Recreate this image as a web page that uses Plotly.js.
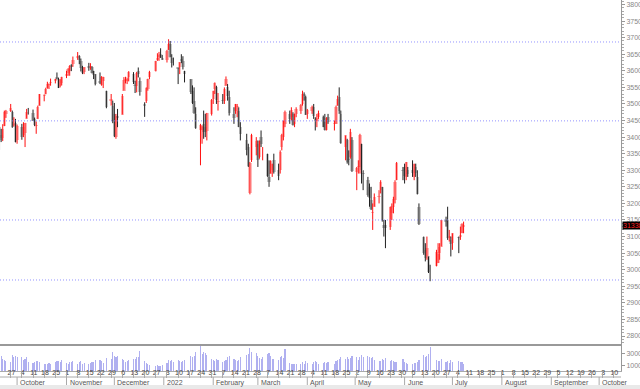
<!DOCTYPE html>
<html><head><meta charset="utf-8">
<script src="https://cdn.plot.ly/plotly-3.0.1.min.js"></script>
<style>html,body{margin:0;padding:0;background:#fff}#chart{width:640px;height:389px}</style>
</head><body><div id="chart"></div>
<script>
const dates = [
"2021-09-20","2021-09-21","2021-09-22","2021-09-23","2021-09-24","2021-09-27","2021-09-28","2021-09-29","2021-09-30",
"2021-10-01","2021-10-04","2021-10-05","2021-10-06","2021-10-07","2021-10-08","2021-10-11","2021-10-12","2021-10-13","2021-10-14","2021-10-15","2021-10-18","2021-10-19","2021-10-20","2021-10-21","2021-10-22","2021-10-25","2021-10-26","2021-10-27","2021-10-28","2021-10-29",
"2021-11-01","2021-11-02","2021-11-03","2021-11-04","2021-11-05","2021-11-08","2021-11-09","2021-11-10","2021-11-11","2021-11-12","2021-11-15","2021-11-16","2021-11-17","2021-11-18","2021-11-19","2021-11-22","2021-11-23","2021-11-24","2021-11-26","2021-11-29","2021-11-30",
"2021-12-01","2021-12-02","2021-12-03","2021-12-06","2021-12-07","2021-12-08","2021-12-09","2021-12-10","2021-12-13","2021-12-14","2021-12-15","2021-12-16","2021-12-17","2021-12-20","2021-12-21","2021-12-22","2021-12-23","2021-12-27","2021-12-28","2021-12-29","2021-12-30","2021-12-31",
"2022-01-03","2022-01-04","2022-01-05","2022-01-06","2022-01-07","2022-01-10","2022-01-11","2022-01-12","2022-01-13","2022-01-14","2022-01-18","2022-01-19","2022-01-20","2022-01-21","2022-01-24","2022-01-25","2022-01-26","2022-01-27","2022-01-28","2022-01-31",
"2022-02-01","2022-02-02","2022-02-03","2022-02-04","2022-02-07","2022-02-08","2022-02-09","2022-02-10","2022-02-11","2022-02-14","2022-02-15","2022-02-16","2022-02-17","2022-02-18","2022-02-22","2022-02-23","2022-02-24","2022-02-25","2022-02-28",
"2022-03-01","2022-03-02","2022-03-03","2022-03-04","2022-03-07","2022-03-08","2022-03-09","2022-03-10","2022-03-11","2022-03-14","2022-03-15","2022-03-16","2022-03-17","2022-03-18","2022-03-21","2022-03-22","2022-03-23","2022-03-24","2022-03-25","2022-03-28","2022-03-29","2022-03-30","2022-03-31",
"2022-04-01","2022-04-04","2022-04-05","2022-04-06","2022-04-07","2022-04-08","2022-04-11","2022-04-12","2022-04-13","2022-04-14","2022-04-18","2022-04-19","2022-04-20","2022-04-21","2022-04-22","2022-04-25","2022-04-26","2022-04-27","2022-04-28","2022-04-29",
"2022-05-02","2022-05-03","2022-05-04","2022-05-05","2022-05-06","2022-05-09","2022-05-10","2022-05-11","2022-05-12","2022-05-13","2022-05-16","2022-05-17","2022-05-18","2022-05-19","2022-05-20","2022-05-23","2022-05-24","2022-05-25","2022-05-26","2022-05-27","2022-05-31",
"2022-06-01","2022-06-02","2022-06-03","2022-06-06","2022-06-07","2022-06-08","2022-06-09","2022-06-10","2022-06-13","2022-06-14","2022-06-15","2022-06-16","2022-06-17","2022-06-21","2022-06-22","2022-06-23","2022-06-24","2022-06-27","2022-06-28","2022-06-29","2022-06-30",
"2022-07-01","2022-07-05","2022-07-06","2022-07-07","2022-07-08"];

const open = [
34300,34060,33960,34330,34700,34800,34760,34360,34440,
33900,34300,34050,34130,34560,34770,34740,34550,34340,34550,34950,35250,35300,35480,35570,35630,35700,35800,35760,35550,35630,
35850,35930,36000,36180,36200,36380,36460,36300,36100,35970,36160,36090,36100,35980,35900,35680,35580,35700,35400,35100,34950,
34700,34000,34650,34680,35400,35700,35700,35800,35900,35550,35530,35980,35700,35000,35100,35450,35800,35980,36330,36430,36500,36400,
36320,36630,36800,36400,36250,36100,36100,36350,36300,36000,35750,35400,35100,34700,34200,34200,34400,34300,34180,34700,
35150,35450,35500,35050,35100,35100,35550,35500,35200,34700,34800,34900,34800,34300,33900,33700,32300,33300,33700,
33800,33400,34000,33600,33500,32800,32900,33000,33300,33000,33000,33700,34000,34400,34700,34600,34700,34400,34700,34800,35000,35300,35200,
34700,34800,34900,34550,34500,34600,34600,34450,34200,34600,34400,34400,34950,35200,34700,33700,33900,33350,33400,33900,
32950,33100,33100,33800,32900,32700,32500,32100,31700,31900,32200,32400,32500,31350,31350,31300,31700,31900,32100,32700,33000,
33100,32800,33000,33000,32800,33100,32800,31900,31000,30600,30400,30400,29900,30100,30200,30500,30700,31500,31500,30950,30900,
30800,31000,31000,31100,31300];

const high = [
34320,34250,34390,34800,34820,35000,34800,34600,34550,
34380,34400,34450,34430,34850,34880,34830,34590,34470,34950,35300,35290,35490,35670,35620,35765,35760,35950,35790,35750,35820,
36000,36080,36170,36200,36430,36566,36470,36370,36150,36110,36240,36230,36140,36000,35900,35950,35840,35820,35400,35300,35100,
35030,34700,34850,35300,35810,35820,35800,35990,35960,35700,35970,36100,35800,35050,35500,35760,36000,36300,36530,36570,36680,36480,
36630,36952,36900,36500,36400,36100,36260,36500,36440,36000,35750,35560,35500,34900,34400,34350,34800,34700,34730,35150,
35400,35650,35550,35330,35300,35500,35830,35600,35400,34900,35000,35000,34900,34450,34100,33800,33250,34100,34000,
33900,33900,34200,33700,33500,33300,33300,33200,33500,33200,33600,34100,34500,34800,34800,34900,34750,34710,34900,35000,35400,35350,35250,
34850,34950,35000,34600,34700,34800,34650,34700,34600,34700,34500,34950,35250,35500,34800,34050,33950,33600,34250,34000,
33100,33300,34100,33800,33000,32800,32600,32500,32000,32300,32400,32700,32500,31500,31500,31900,32000,32200,32700,33250,33100,
33200,33250,33100,33300,33200,33200,33000,32000,31000,30800,31000,30400,30150,30600,30800,30800,31500,31600,31900,31200,31000,
31100,31000,31300,31400,31450];

const low = [
33613,33850,33880,34330,34580,34760,34280,34320,33840,
33800,33920,34000,33700,34560,34680,34490,34330,34100,34550,34950,35080,35290,35460,35450,35550,35620,35740,35480,35500,35560,
35780,35850,35850,35990,36120,36330,36200,35980,35900,35900,36000,36030,35920,35750,35560,35600,35550,35480,34870,34950,34420,
34000,33950,34300,34680,35400,35620,35600,35680,35600,35330,35350,35800,35250,34610,35030,35400,35750,35980,36300,36300,36390,36330,
36250,36630,36400,36100,36160,35600,35900,36230,36040,35650,35300,35000,34700,34250,33150,33800,33950,34000,33900,34650,
35000,35300,35000,34800,35000,35000,35550,35100,34650,34400,34700,34600,34300,33900,33450,33100,32273,33250,33450,
33100,33350,33700,33300,32800,32500,32900,32800,32900,32700,32900,33600,33900,34300,34400,34500,34350,34300,34600,34700,34950,35100,34670,
34550,34700,34550,34200,34300,34550,34300,34200,34200,34400,34200,34400,34950,34700,33800,33300,33200,33150,33350,32950,
32400,32900,32900,32600,32400,32200,31900,31800,31200,31900,32000,32300,31450,31000,30650,31200,31500,31700,32000,32700,32700,
32600,32700,32800,32800,32700,32800,32270,31350,30450,30250,30300,29900,29653,30100,30200,30300,30700,31300,30900,30850,30400,
30600,30500,30900,31100,31100];

const close = [
33970,33919,34258,34765,34798,34869,34299,34390,33844,
34326,34002,34315,34417,34755,34746,34496,34378,34377,34912,35295,35259,35457,35609,35603,35677,35741,35756,35491,35731,35820,
35913,36053,36158,36124,36328,36432,36320,36080,35921,36100,36087,36143,35931,35871,35602,35619,35814,35805,34899,35136,34484,
34022,34640,34581,35227,35719,35754,35754,35971,35650,35544,35927,35897,35365,34932,35493,35754,35950,36302,36398,36488,36398,36338,
36585,36799,36408,36236,36231,36068,36252,36290,36114,35912,35369,35029,34715,34265,34365,34298,34168,34160,34725,35132,
35405,35629,35111,35089,35091,35463,35768,35242,34738,34566,34989,34935,34312,34079,33597,33132,33224,34059,33893,
33295,33892,33795,33615,32818,32633,33286,33174,32945,32818,33545,34063,34481,34755,34553,34808,34359,34708,34862,34956,35294,35229,34678,
34818,34922,34641,34497,34584,34721,34308,34221,34565,34452,34412,34911,35161,34793,33811,34049,33241,33302,34160,32977,
33062,33129,34061,32998,32899,32246,32161,31834,31730,32197,32223,32655,31490,31253,31262,31880,31929,32120,32637,33213,32990,
32813,33248,32900,32916,33180,32910,32272,31393,30517,30365,30668,29927,29889,30530,30484,30677,31501,31439,30947,31029,30775,
31097,30968,31037,31385,31338];

const volume = [
30000,26000,22000,20000,17000,16000,28000,24000,27000,
25000,24000,20000,22000,25000,15000,14000,16000,18000,17000,15000,12000,13000,12000,14000,13000,15000,18000,17000,16000,19000,
14000,13000,15000,16000,17000,13000,15000,17000,12000,14000,13000,14000,15000,16000,19000,20000,18000,14000,23000,22000,33000,
27000,25000,26000,22000,20000,16000,17000,19000,22000,21000,25000,24000,36000,17000,14000,13000,11000,9000,10000,9000,8000,10000,
14000,20000,18000,19000,16000,19000,17000,15000,17000,20000,27000,24000,26000,33000,44000,30000,33000,32000,28000,22000,
19000,18000,21000,20000,16000,18000,20000,24000,26000,22000,19000,18000,20000,24000,28000,30000,41000,33000,32000,
27000,23000,22000,24000,30000,31000,26000,22000,21000,20000,24000,26000,23000,38000,14000,13000,13000,12000,12000,12000,15000,13000,17000,
14000,13000,15000,18000,16000,13000,14000,15000,14000,16000,13000,17000,20000,22000,25000,22000,24000,21000,23000,27000,
24000,20000,25000,28000,24000,26000,25000,23000,24000,20000,18000,17000,21000,20000,23000,18000,19000,17000,16000,15000,22000,
16000,14000,13000,13000,14000,14000,16000,19000,28000,25000,26000,30000,42000,20000,18000,17000,22000,15000,17000,14000,19000,
16000,17000,16000,15000,13000];

const supportLevels = [36870, 34490, 31500, 29690];
const monthStarts = ["2021-10-01","2021-11-01","2021-12-01","2022-01-01","2022-02-01","2022-03-01","2022-04-01","2022-05-01","2022-06-01","2022-07-01","2022-08-01","2022-09-01","2022-10-01"];
const monthLabels = ["October","November","December","2022","February","March","April","May","June","July","August","September","October"];
const volTickVals = [10000, 30000];
const volTickText = ["10000", "30000"];

const DAY = 86400000;
const up = close.map((c, i) => c >= open[i]);
const bodyBase = close.map((c, i) => Math.min(c, open[i]));
const bodyLen = close.map((c, i) => Math.max(Math.abs(c - open[i]), 15));
const lastClose = close[close.length - 1];

const traces = [
  {type: 'bar', x: dates, y: bodyLen, base: bodyBase, width: 2.1 * DAY,
   marker: {color: up.map(u => u ? 'rgba(255,150,150,0.65)' : 'rgba(160,160,160,0.55)'), line: {width: 0}},
   xaxis: 'x', yaxis: 'y', hoverinfo: 'skip', showlegend: false},
  {type: 'ohlc', x: dates, open: open, high: high, low: low, close: close, tickwidth: 0,
   increasing: {line: {color: '#ff1010', width: 1}}, decreasing: {line: {color: '#202020', width: 1}},
   xaxis: 'x', yaxis: 'y', hoverinfo: 'skip', showlegend: false},
  {type: 'bar', x: dates, y: volume, width: 0.7 * DAY,
   marker: {color: 'rgba(150,150,235,0.75)', line: {width: 0}},
   xaxis: 'x2', yaxis: 'y2', hoverinfo: 'skip', showlegend: false},
  {type: 'scatter', x: [], y: [], xaxis: 'x3', yaxis: 'y2', showlegend: false}
];

const PH = 371; // plot area height in px
const shapes = [];
supportLevels.forEach(v => shapes.push({type: 'line', xref: 'paper', x0: 0, x1: 1, yref: 'y', y0: v, y1: v,
  line: {color: 'rgba(120,120,255,0.8)', width: 1, dash: '1px,2px'}}));
shapes.push({type: 'line', xref: 'paper', x0: 0, x1: 1, yref: 'paper', y0: -6 / PH, y1: -6 / PH, line: {color: '#aaaaaa', width: 1}});
shapes.push({type: 'rect', xref: 'paper', x0: 0, x1: 640 / 621, yref: 'paper', y0: -14 / PH, y1: -18.5 / PH,
  fillcolor: '#e9e9e9', line: {width: 0}});
monthStarts.forEach(d => shapes.push({type: 'line', xref: 'x', x0: d, x1: d, yref: 'paper', y0: -6 / PH, y1: -14 / PH,
  line: {color: '#aaaaaa', width: 1}}));

const annotations = monthLabels.map((t, i) => ({text: t, x: monthStarts[i], xref: 'x', xanchor: 'left', xshift: 1,
  y: -5.5 / PH, yref: 'paper', yanchor: 'top', showarrow: false, font: {size: 7, color: '#555'}}));
annotations.push({text: String(lastClose), x: 1, xref: 'paper', xanchor: 'left', xshift: 1, y: lastClose, yref: 'y',
  yanchor: 'middle', showarrow: false, bgcolor: '#000000', borderpad: 0, font: {size: 7, color: '#ff2020'}});

const xr = ['2021-09-20 07:00', '2022-10-14 17:00'];
const layout = {
  width: 640, height: 389, paper_bgcolor: '#ffffff', plot_bgcolor: '#ffffff',
  margin: {l: 0, r: 19, t: 0, b: 18}, showlegend: false, bargap: 0,
  font: {family: 'Liberation Sans, Arial, sans-serif', size: 8, color: '#666'},
  xaxis: {domain: [0, 1], range: xr, type: 'date', anchor: 'y', showline: true, linecolor: '#999999', linewidth: 2,
    showticklabels: false, ticks: '', showgrid: false, zeroline: false, rangeslider: {visible: false}},
  xaxis2: {matches: 'x', type: 'date', anchor: 'y2', showline: true, linecolor: '#aaaaaa', linewidth: 1,
    tick0: '2021-09-20', dtick: 7 * DAY, tickformat: '%-d', ticklabelmode: 'period', ticks: '',
    ticklabelstandoff: -5, tickfont: {size: 7, color: '#444'}, showgrid: false, zeroline: false},
  xaxis3: {matches: 'x', type: 'date', overlaying: 'x2', anchor: 'y2', tick0: '2021-09-20', dtick: 7 * DAY,
    ticks: 'outside', ticklen: 6, tickcolor: '#aaaaaa', showticklabels: false, showline: false, showgrid: false, zeroline: false},
  yaxis: {domain: [(PH - 344) / PH, 1], range: [27759, 38136], side: 'right', anchor: 'x', showline: true,
    linecolor: '#999999', linewidth: 1, ticks: 'outside', ticklen: 3, tickcolor: '#999999', dtick: 500, tick0: 0,
    tickformat: 'd', tickfont: {size: 7, color: '#888'}, showgrid: false, zeroline: false,
    minor: {dtick: 100, ticks: 'outside', ticklen: 2, tickcolor: '#aaaaaa', showgrid: false}},
  yaxis2: {domain: [0, 25 / PH], range: [0, 44000], side: 'right', anchor: 'x2', showline: true, linecolor: '#999999',
    ticks: 'outside', ticklen: 3, tickcolor: '#999999', tickvals: volTickVals, ticktext: volTickText,
    tickfont: {size: 7, color: '#888'}, showgrid: false, zeroline: false},
  shapes: shapes, annotations: annotations
};
Plotly.newPlot('chart', traces, layout, {staticPlot: true, displayModeBar: false});
</script></body></html>
